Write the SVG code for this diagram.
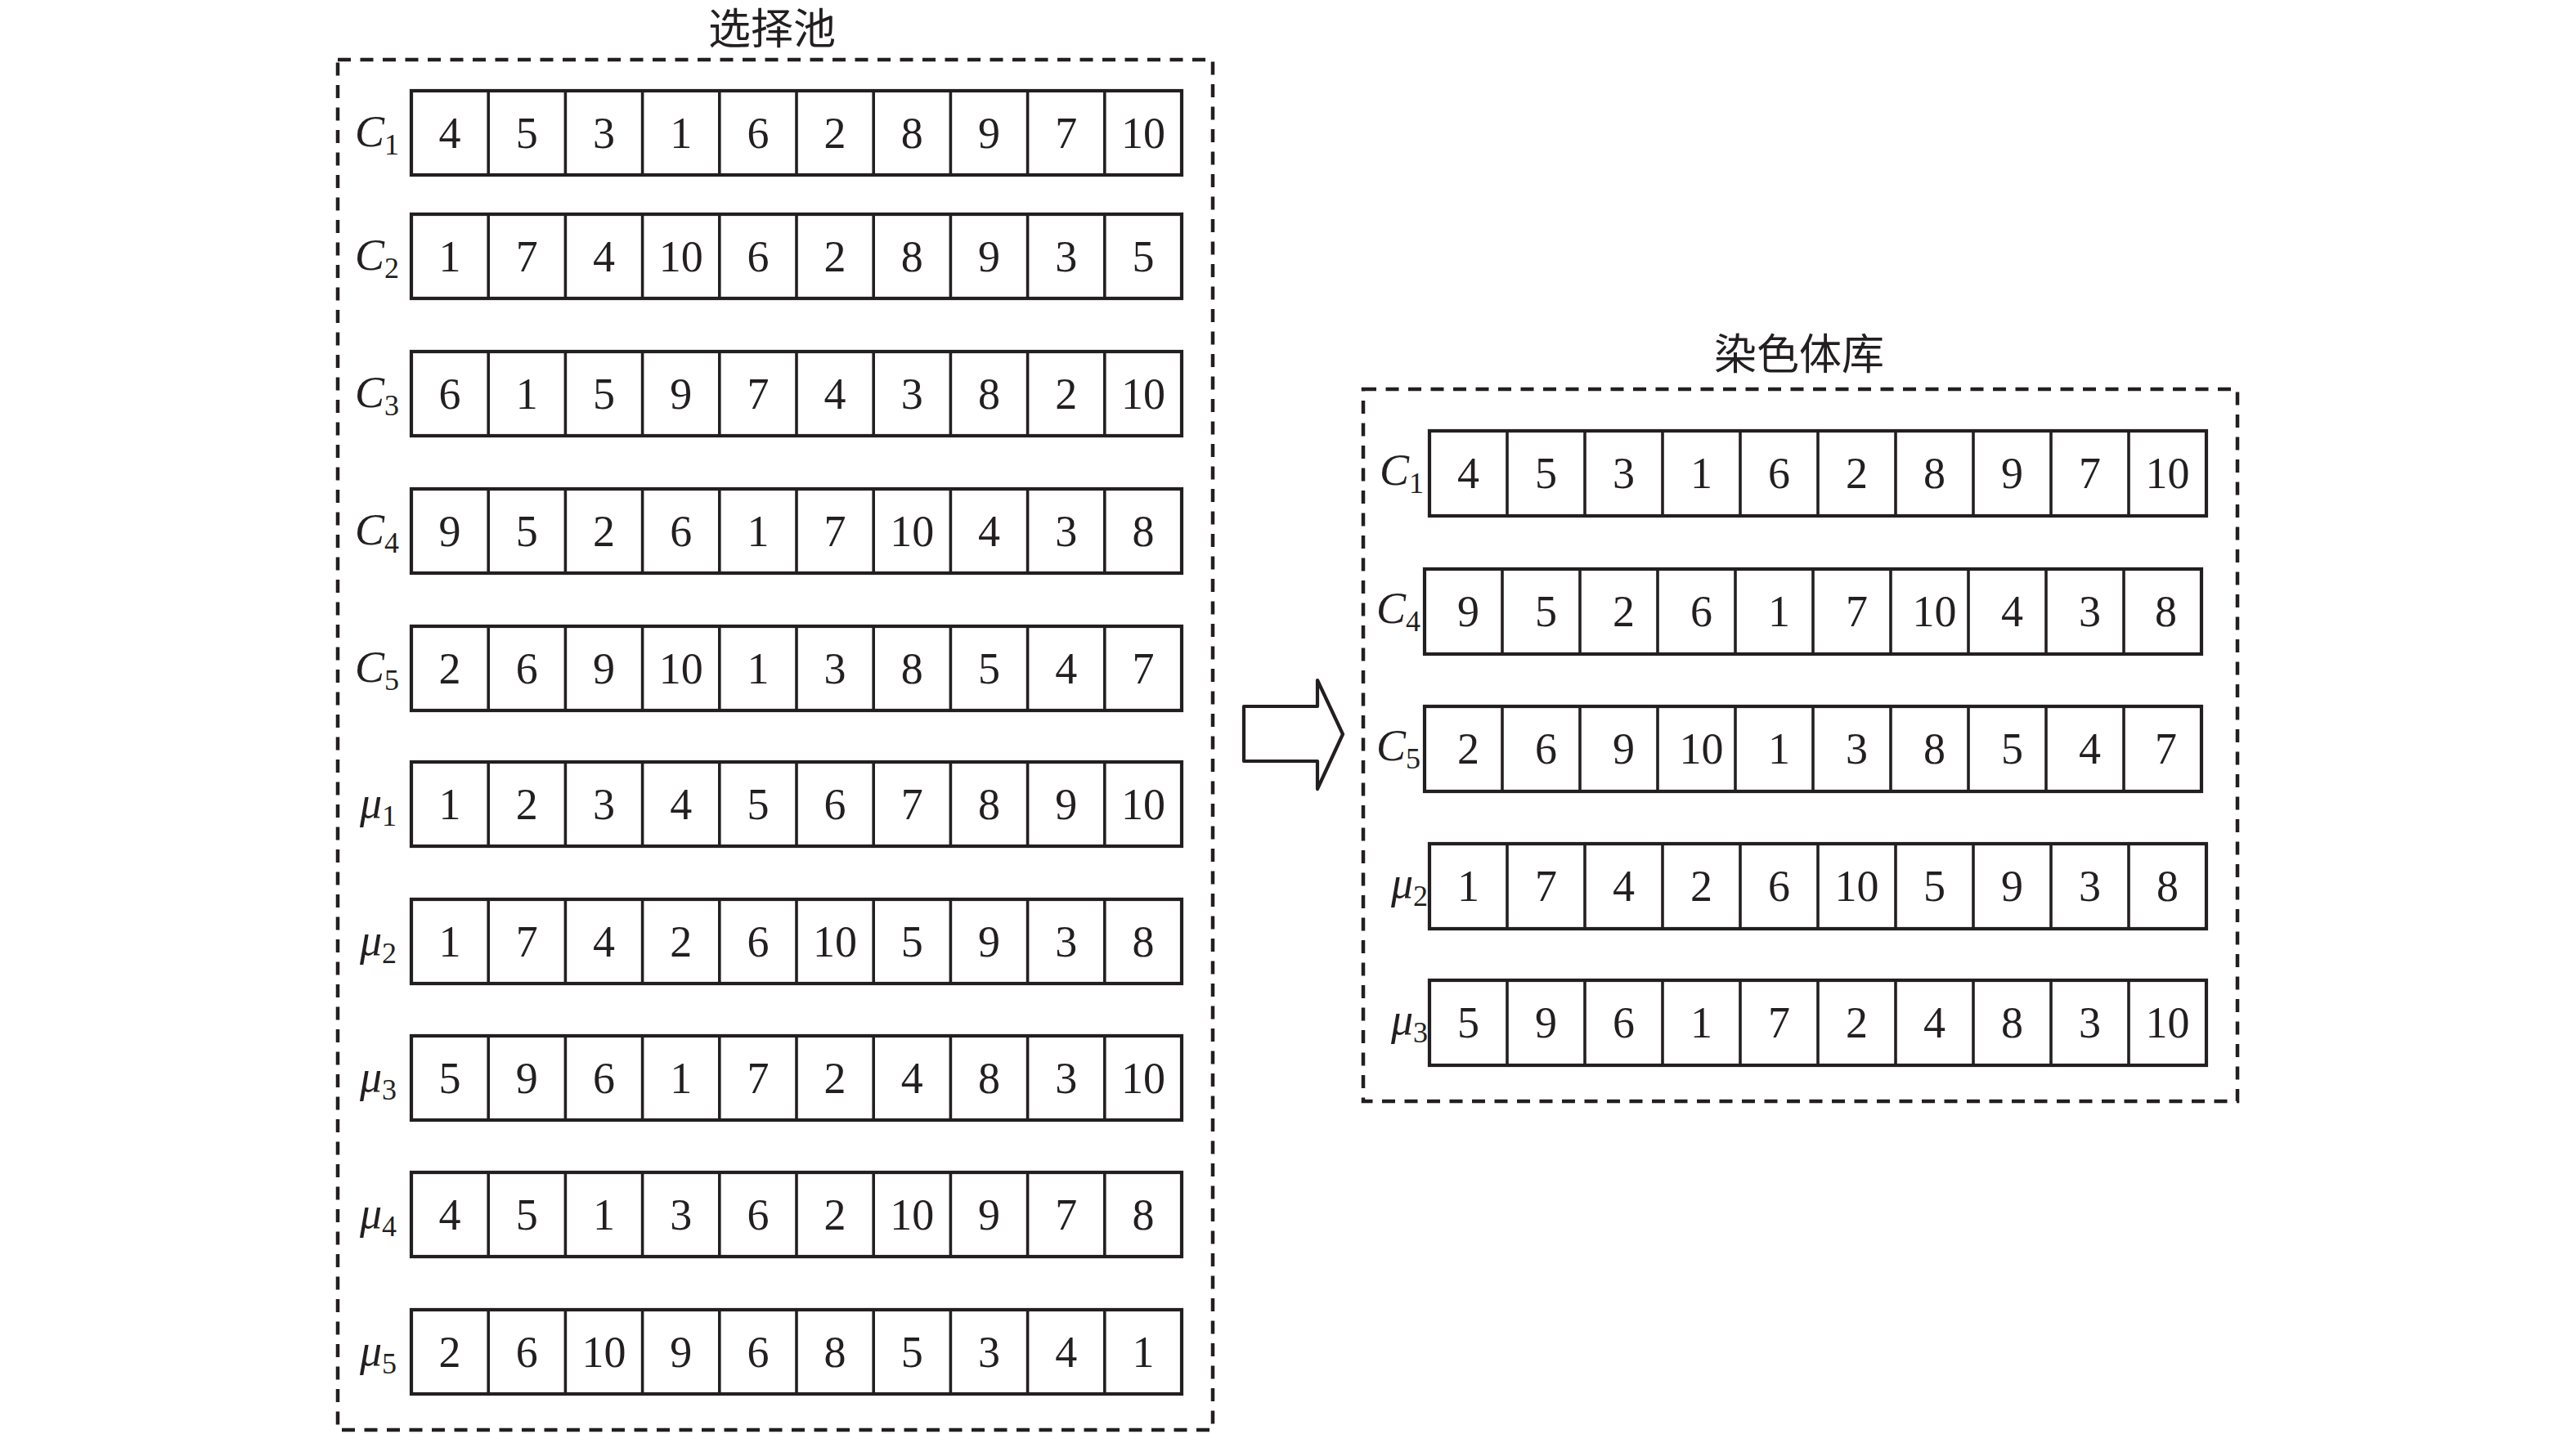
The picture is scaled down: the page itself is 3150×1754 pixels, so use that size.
<svg xmlns="http://www.w3.org/2000/svg" width="3150" height="1754" viewBox="0 0 3150 1754">
<style>
.bg{fill:#ffffff}
.box{fill:none;stroke:#231f20;stroke-width:4.5;stroke-dasharray:16 11.5}
.row{fill:#ffffff;stroke:#231f20;stroke-width:4.2}
.div{stroke:#231f20;stroke-width:3.6}
.n{font-family:"Liberation Serif","Times New Roman",serif;font-size:54px;fill:#231f20;text-anchor:middle}
.lbl{font-family:"Liberation Serif","Times New Roman",serif;font-size:54px;font-style:italic;fill:#231f20}
.sub{font-size:36px;font-style:normal}
.title{font-family:"Noto Sans CJK SC","Noto Sans",sans-serif;font-size:52px;fill:#231f20;text-anchor:middle}
.arrow{fill:#ffffff;stroke:#231f20;stroke-width:4.2;stroke-linejoin:round}
</style>
<defs>
<g id="divL">
<line class="div" x1="94.2" y1="0" x2="94.2" y2="103"/>
<line class="div" x1="188.4" y1="0" x2="188.4" y2="103"/>
<line class="div" x1="282.6" y1="0" x2="282.6" y2="103"/>
<line class="div" x1="376.8" y1="0" x2="376.8" y2="103"/>
<line class="div" x1="471" y1="0" x2="471" y2="103"/>
<line class="div" x1="565.2" y1="0" x2="565.2" y2="103"/>
<line class="div" x1="659.4" y1="0" x2="659.4" y2="103"/>
<line class="div" x1="753.6" y1="0" x2="753.6" y2="103"/>
<line class="div" x1="847.8" y1="0" x2="847.8" y2="103"/>
</g>
<g id="divR">
<line class="div" x1="95" y1="0" x2="95" y2="104"/>
<line class="div" x1="190" y1="0" x2="190" y2="104"/>
<line class="div" x1="285" y1="0" x2="285" y2="104"/>
<line class="div" x1="380" y1="0" x2="380" y2="104"/>
<line class="div" x1="475" y1="0" x2="475" y2="104"/>
<line class="div" x1="570" y1="0" x2="570" y2="104"/>
<line class="div" x1="665" y1="0" x2="665" y2="104"/>
<line class="div" x1="760" y1="0" x2="760" y2="104"/>
<line class="div" x1="855" y1="0" x2="855" y2="104"/>
</g>
</defs>
<rect class="bg" x="0" y="0" width="3150" height="1754"/>

<g id="selection-pool">
<text class="title" x="944" y="54">选择池</text>
<rect class="box" x="413" y="73" width="1070" height="1676"/>

<g id="pool-C1" transform="translate(503,111)">
<rect class="row" x="0" y="0" width="942" height="103"/><use href="#divL"/>
<text class="lbl" x="-69" y="68">C<tspan class="sub" dy="10">1</tspan></text>
<text class="n" x="47.1" y="70">4</text><text class="n" x="141.3" y="70">5</text><text class="n" x="235.5" y="70">3</text><text class="n" x="329.7" y="70">1</text><text class="n" x="423.9" y="70">6</text><text class="n" x="518.1" y="70">2</text><text class="n" x="612.3" y="70">8</text><text class="n" x="706.5" y="70">9</text><text class="n" x="800.7" y="70">7</text><text class="n" x="894.9" y="70">10</text>
</g>

<g id="pool-C2" transform="translate(503,262)">
<rect class="row" x="0" y="0" width="942" height="103"/><use href="#divL"/>
<text class="lbl" x="-69" y="68">C<tspan class="sub" dy="10">2</tspan></text>
<text class="n" x="47.1" y="70">1</text><text class="n" x="141.3" y="70">7</text><text class="n" x="235.5" y="70">4</text><text class="n" x="329.7" y="70">10</text><text class="n" x="423.9" y="70">6</text><text class="n" x="518.1" y="70">2</text><text class="n" x="612.3" y="70">8</text><text class="n" x="706.5" y="70">9</text><text class="n" x="800.7" y="70">3</text><text class="n" x="894.9" y="70">5</text>
</g>

<g id="pool-C3" transform="translate(503,430)">
<rect class="row" x="0" y="0" width="942" height="103"/><use href="#divL"/>
<text class="lbl" x="-69" y="68">C<tspan class="sub" dy="10">3</tspan></text>
<text class="n" x="47.1" y="70">6</text><text class="n" x="141.3" y="70">1</text><text class="n" x="235.5" y="70">5</text><text class="n" x="329.7" y="70">9</text><text class="n" x="423.9" y="70">7</text><text class="n" x="518.1" y="70">4</text><text class="n" x="612.3" y="70">3</text><text class="n" x="706.5" y="70">8</text><text class="n" x="800.7" y="70">2</text><text class="n" x="894.9" y="70">10</text>
</g>

<g id="pool-C4" transform="translate(503,598)">
<rect class="row" x="0" y="0" width="942" height="103"/><use href="#divL"/>
<text class="lbl" x="-69" y="68">C<tspan class="sub" dy="10">4</tspan></text>
<text class="n" x="47.1" y="70">9</text><text class="n" x="141.3" y="70">5</text><text class="n" x="235.5" y="70">2</text><text class="n" x="329.7" y="70">6</text><text class="n" x="423.9" y="70">1</text><text class="n" x="518.1" y="70">7</text><text class="n" x="612.3" y="70">10</text><text class="n" x="706.5" y="70">4</text><text class="n" x="800.7" y="70">3</text><text class="n" x="894.9" y="70">8</text>
</g>

<g id="pool-C5" transform="translate(503,766)">
<rect class="row" x="0" y="0" width="942" height="103"/><use href="#divL"/>
<text class="lbl" x="-69" y="68">C<tspan class="sub" dy="10">5</tspan></text>
<text class="n" x="47.1" y="70">2</text><text class="n" x="141.3" y="70">6</text><text class="n" x="235.5" y="70">9</text><text class="n" x="329.7" y="70">10</text><text class="n" x="423.9" y="70">1</text><text class="n" x="518.1" y="70">3</text><text class="n" x="612.3" y="70">8</text><text class="n" x="706.5" y="70">5</text><text class="n" x="800.7" y="70">4</text><text class="n" x="894.9" y="70">7</text>
</g>

<g id="pool-mu1" transform="translate(503,932)">
<rect class="row" x="0" y="0" width="942" height="103"/><use href="#divL"/>
<text class="lbl" x="-63" y="68">μ<tspan class="sub" dy="10">1</tspan></text>
<text class="n" x="47.1" y="70">1</text><text class="n" x="141.3" y="70">2</text><text class="n" x="235.5" y="70">3</text><text class="n" x="329.7" y="70">4</text><text class="n" x="423.9" y="70">5</text><text class="n" x="518.1" y="70">6</text><text class="n" x="612.3" y="70">7</text><text class="n" x="706.5" y="70">8</text><text class="n" x="800.7" y="70">9</text><text class="n" x="894.9" y="70">10</text>
</g>

<g id="pool-mu2" transform="translate(503,1100)">
<rect class="row" x="0" y="0" width="942" height="103"/><use href="#divL"/>
<text class="lbl" x="-63" y="68">μ<tspan class="sub" dy="10">2</tspan></text>
<text class="n" x="47.1" y="70">1</text><text class="n" x="141.3" y="70">7</text><text class="n" x="235.5" y="70">4</text><text class="n" x="329.7" y="70">2</text><text class="n" x="423.9" y="70">6</text><text class="n" x="518.1" y="70">10</text><text class="n" x="612.3" y="70">5</text><text class="n" x="706.5" y="70">9</text><text class="n" x="800.7" y="70">3</text><text class="n" x="894.9" y="70">8</text>
</g>

<g id="pool-mu3" transform="translate(503,1267)">
<rect class="row" x="0" y="0" width="942" height="103"/><use href="#divL"/>
<text class="lbl" x="-63" y="68">μ<tspan class="sub" dy="10">3</tspan></text>
<text class="n" x="47.1" y="70">5</text><text class="n" x="141.3" y="70">9</text><text class="n" x="235.5" y="70">6</text><text class="n" x="329.7" y="70">1</text><text class="n" x="423.9" y="70">7</text><text class="n" x="518.1" y="70">2</text><text class="n" x="612.3" y="70">4</text><text class="n" x="706.5" y="70">8</text><text class="n" x="800.7" y="70">3</text><text class="n" x="894.9" y="70">10</text>
</g>

<g id="pool-mu4" transform="translate(503,1434)">
<rect class="row" x="0" y="0" width="942" height="103"/><use href="#divL"/>
<text class="lbl" x="-63" y="68">μ<tspan class="sub" dy="10">4</tspan></text>
<text class="n" x="47.1" y="70">4</text><text class="n" x="141.3" y="70">5</text><text class="n" x="235.5" y="70">1</text><text class="n" x="329.7" y="70">3</text><text class="n" x="423.9" y="70">6</text><text class="n" x="518.1" y="70">2</text><text class="n" x="612.3" y="70">10</text><text class="n" x="706.5" y="70">9</text><text class="n" x="800.7" y="70">7</text><text class="n" x="894.9" y="70">8</text>
</g>

<g id="pool-mu5" transform="translate(503,1602)">
<rect class="row" x="0" y="0" width="942" height="103"/><use href="#divL"/>
<text class="lbl" x="-63" y="68">μ<tspan class="sub" dy="10">5</tspan></text>
<text class="n" x="47.1" y="70">2</text><text class="n" x="141.3" y="70">6</text><text class="n" x="235.5" y="70">10</text><text class="n" x="329.7" y="70">9</text><text class="n" x="423.9" y="70">6</text><text class="n" x="518.1" y="70">8</text><text class="n" x="612.3" y="70">5</text><text class="n" x="706.5" y="70">3</text><text class="n" x="800.7" y="70">4</text><text class="n" x="894.9" y="70">1</text>
</g>
</g>

<g id="connectors">
<polygon class="arrow" points="1521,864 1611,864 1611,832 1642,898 1611,965 1611,931 1521,931"/>
</g>

<g id="chromosome-library">
<text class="title" x="2200" y="452">染色体库</text>
<rect class="box" x="1667" y="476" width="1069" height="871"/>

<g id="lib-C1" transform="translate(1748,527)">
<rect class="row" x="0" y="0" width="950" height="104"/><use href="#divR"/>
<text class="lbl" x="-61" y="66">C<tspan class="sub" dy="10">1</tspan></text>
<text class="n" x="47.5" y="70">4</text><text class="n" x="142.5" y="70">5</text><text class="n" x="237.5" y="70">3</text><text class="n" x="332.5" y="70">1</text><text class="n" x="427.5" y="70">6</text><text class="n" x="522.5" y="70">2</text><text class="n" x="617.5" y="70">8</text><text class="n" x="712.5" y="70">9</text><text class="n" x="807.5" y="70">7</text><text class="n" x="902.5" y="70">10</text>
</g>

<g id="lib-C4" transform="translate(1742,696)">
<rect class="row" x="0" y="0" width="950" height="104"/><use href="#divR"/>
<text class="lbl" x="-59" y="66">C<tspan class="sub" dy="10">4</tspan></text>
<text class="n" x="53.5" y="70">9</text><text class="n" x="148.5" y="70">5</text><text class="n" x="243.5" y="70">2</text><text class="n" x="338.5" y="70">6</text><text class="n" x="433.5" y="70">1</text><text class="n" x="528.5" y="70">7</text><text class="n" x="623.5" y="70">10</text><text class="n" x="718.5" y="70">4</text><text class="n" x="813.5" y="70">3</text><text class="n" x="906.5" y="70">8</text>
</g>

<g id="lib-C5" transform="translate(1742,864)">
<rect class="row" x="0" y="0" width="950" height="104"/><use href="#divR"/>
<text class="lbl" x="-59" y="66">C<tspan class="sub" dy="10">5</tspan></text>
<text class="n" x="53.5" y="70">2</text><text class="n" x="148.5" y="70">6</text><text class="n" x="243.5" y="70">9</text><text class="n" x="338.5" y="70">10</text><text class="n" x="433.5" y="70">1</text><text class="n" x="528.5" y="70">3</text><text class="n" x="623.5" y="70">8</text><text class="n" x="718.5" y="70">5</text><text class="n" x="813.5" y="70">4</text><text class="n" x="906.5" y="70">7</text>
</g>

<g id="lib-mu2" transform="translate(1748,1032)">
<rect class="row" x="0" y="0" width="950" height="104"/><use href="#divR"/>
<text class="lbl" x="-47" y="66">μ<tspan class="sub" dy="10">2</tspan></text>
<text class="n" x="47.5" y="70">1</text><text class="n" x="142.5" y="70">7</text><text class="n" x="237.5" y="70">4</text><text class="n" x="332.5" y="70">2</text><text class="n" x="427.5" y="70">6</text><text class="n" x="522.5" y="70">10</text><text class="n" x="617.5" y="70">5</text><text class="n" x="712.5" y="70">9</text><text class="n" x="807.5" y="70">3</text><text class="n" x="902.5" y="70">8</text>
</g>

<g id="lib-mu3" transform="translate(1748,1199)">
<rect class="row" x="0" y="0" width="950" height="104"/><use href="#divR"/>
<text class="lbl" x="-47" y="66">μ<tspan class="sub" dy="10">3</tspan></text>
<text class="n" x="47.5" y="70">5</text><text class="n" x="142.5" y="70">9</text><text class="n" x="237.5" y="70">6</text><text class="n" x="332.5" y="70">1</text><text class="n" x="427.5" y="70">7</text><text class="n" x="522.5" y="70">2</text><text class="n" x="617.5" y="70">4</text><text class="n" x="712.5" y="70">8</text><text class="n" x="807.5" y="70">3</text><text class="n" x="902.5" y="70">10</text>
</g>
</g>
</svg>
